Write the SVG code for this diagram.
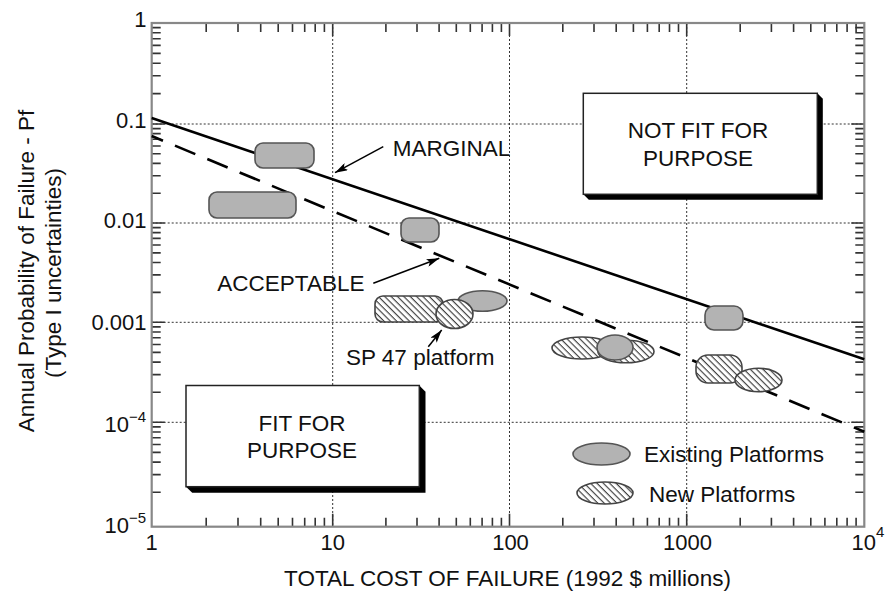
<svg xmlns="http://www.w3.org/2000/svg" width="886" height="597" viewBox="0 0 886 597">
<style>
text{font-family:"Liberation Sans",Arial,Helvetica,sans-serif;fill:#111;}
.lab{font-size:22.5px;}
.tick{font-size:22px;}
.sup{font-size:15px;}
.grid{fill:none;stroke:#333;stroke-width:1;stroke-dasharray:2 2;}
.minor{fill:none;stroke:#333;stroke-width:1.6;}
.axisframe{fill:none;stroke:#888;stroke-width:2.2;}
.exist{fill:#b3b3b3;stroke:#555;stroke-width:1.6;}
.newp{fill:url(#hatch);stroke:#444;stroke-width:1.6;}
.box{fill:#fff;stroke:#222;stroke-width:1.5;}
.shadow{fill:#000;}
.arrow{fill:none;stroke:#000;stroke-width:1.5;marker-end:url(#ah);}
</style>
<defs>
<pattern id="hatch" width="6" height="4.5" patternUnits="userSpaceOnUse" patternTransform="rotate(45)">
<rect width="6" height="4.5" fill="#fff"/>
<line x1="0" y1="0.6" x2="6" y2="0.6" stroke="#333" stroke-width="1.1"/>
</pattern>
<marker id="ah" viewBox="0 0 13 8" refX="13" refY="4" markerWidth="13" markerHeight="8" orient="auto" markerUnits="userSpaceOnUse">
<path d="M0,0 L13,4 L0,8 L3,4 z" fill="#000"/>
</marker>
</defs>
<rect width="886" height="597" fill="#fff"/>

<g id="grid">
<path class="grid" d="M151.7 124H864.3M151.7 223H864.3M151.7 322.3H864.3M151.7 422.3H864.3M332.7 23V526.7M509.5 23V526.7M686.7 23V526.7"/>
</g>

<g id="axes">
<path class="minor" d="M151.7 93.6h9M151.7 75.8h9M151.7 63.2h9M151.7 53.4h9M151.7 45.4h9M151.7 38.7h9M151.7 32.8h9M151.7 27.6h9M151.7 193.2h9M151.7 175.8h9M151.7 163.4h9M151.7 153.8h9M151.7 146h9M151.7 139.3h9M151.7 133.6h9M151.7 128.6h9M151.7 292.4h9M151.7 274.9h9M151.7 262.5h9M151.7 252.9h9M151.7 245h9M151.7 238.4h9M151.7 232.6h9M151.7 227.6h9M151.7 392.2h9M151.7 374.6h9M151.7 362.1h9M151.7 352.4h9M151.7 344.5h9M151.7 337.8h9M151.7 332h9M151.7 326.9h9M151.7 492.2h9M151.7 474.6h9M151.7 462.1h9M151.7 452.4h9M151.7 444.5h9M151.7 437.8h9M151.7 432h9M151.7 426.9h9M151.7 124h13M151.7 223h13M151.7 322.3h13M151.7 422.3h13"/>
<path class="minor" d="M864.3 93.6h-9M864.3 75.8h-9M864.3 63.2h-9M864.3 53.4h-9M864.3 45.4h-9M864.3 38.7h-9M864.3 32.8h-9M864.3 27.6h-9M864.3 193.2h-9M864.3 175.8h-9M864.3 163.4h-9M864.3 153.8h-9M864.3 146h-9M864.3 139.3h-9M864.3 133.6h-9M864.3 128.6h-9M864.3 292.4h-9M864.3 274.9h-9M864.3 262.5h-9M864.3 252.9h-9M864.3 245h-9M864.3 238.4h-9M864.3 232.6h-9M864.3 227.6h-9M864.3 392.2h-9M864.3 374.6h-9M864.3 362.1h-9M864.3 352.4h-9M864.3 344.5h-9M864.3 337.8h-9M864.3 332h-9M864.3 326.9h-9M864.3 492.2h-9M864.3 474.6h-9M864.3 462.1h-9M864.3 452.4h-9M864.3 444.5h-9M864.3 437.8h-9M864.3 432h-9M864.3 426.9h-9M864.3 124h-13M864.3 223h-13M864.3 322.3h-13M864.3 422.3h-13"/>
<path class="minor" d="M206.2 23v9M238 23v9M260.7 23v9M278.2 23v9M292.5 23v9M304.7 23v9M315.2 23v9M324.4 23v9M385.9 23v9M417 23v9M439.1 23v9M456.3 23v9M470.3 23v9M482.1 23v9M492.4 23v9M501.4 23v9M562.8 23v9M594 23v9M616.2 23v9M633.4 23v9M647.4 23v9M659.2 23v9M669.5 23v9M678.5 23v9M740.2 23v9M771.4 23v9M793.6 23v9M810.8 23v9M824.9 23v9M836.8 23v9M847.1 23v9M856.1 23v9M332.7 23v13M509.5 23v13M686.7 23v13"/>
<path class="minor" d="M206.2 526.7v-9M238 526.7v-9M260.7 526.7v-9M278.2 526.7v-9M292.5 526.7v-9M304.7 526.7v-9M315.2 526.7v-9M324.4 526.7v-9M385.9 526.7v-9M417 526.7v-9M439.1 526.7v-9M456.3 526.7v-9M470.3 526.7v-9M482.1 526.7v-9M492.4 526.7v-9M501.4 526.7v-9M562.8 526.7v-9M594 526.7v-9M616.2 526.7v-9M633.4 526.7v-9M647.4 526.7v-9M659.2 526.7v-9M669.5 526.7v-9M678.5 526.7v-9M740.2 526.7v-9M771.4 526.7v-9M793.6 526.7v-9M810.8 526.7v-9M824.9 526.7v-9M836.8 526.7v-9M847.1 526.7v-9M856.1 526.7v-9M332.7 526.7v-13M509.5 526.7v-13M686.7 526.7v-13"/>
<rect class="axisframe" x="151.7" y="23" width="712.6" height="503.7"/>
</g>

<g id="axis-labels">
<text class="tick" x="146.5" y="26.7" text-anchor="end">1</text>
<text class="tick" x="146.5" y="128" text-anchor="end">0.1</text>
<text class="tick" x="146.5" y="228" text-anchor="end">0.01</text>
<text class="tick" x="146.5" y="330" text-anchor="end">0.001</text>
<text class="tick" x="146" y="431.7" text-anchor="end">10<tspan class="sup" dy="-10">−4</tspan></text>
<text class="tick" x="146" y="533.3" text-anchor="end">10<tspan class="sup" dy="-10">−5</tspan></text>
<text class="tick" x="151.7" y="550" text-anchor="middle">1</text>
<text class="tick" x="332.7" y="550" text-anchor="middle">10</text>
<text class="tick" x="510.5" y="550" text-anchor="middle">100</text>
<text class="tick" x="687.5" y="550" text-anchor="middle">1000</text>
<text class="tick" x="851.5" y="550">10<tspan class="sup" dy="-13">4</tspan></text>
<text class="lab" x="507.5" y="586" text-anchor="middle">TOTAL COST OF FAILURE (1992 $ millions)</text>
<text class="lab" transform="translate(34,271) rotate(-90)" text-anchor="middle">Annual Probability of Failure - Pf</text>
<text class="lab" transform="translate(60.5,273) rotate(-90)" text-anchor="middle">(Type I uncertainties)</text>
</g>

<g id="connectors">
<line id="marginal-line" x1="151.7" y1="118" x2="864.3" y2="359.3" stroke="#000" stroke-width="2.6"/>
<line id="acceptable-line" x1="151.7" y1="136" x2="864.3" y2="431.7" stroke="#000" stroke-width="2.6" stroke-dasharray="22 13" stroke-dashoffset="9.8"/>
<line class="arrow" x1="383.3" y1="146.7" x2="335" y2="172.7"/>
<line class="arrow" x1="373.3" y1="283.3" x2="439.3" y2="258.3"/>
<line class="arrow" x1="428.3" y1="346.7" x2="441.7" y2="330"/>
</g>

<g id="not-fit-box">
<polygon class="shadow" points="817.3,93.3 822.8,98.8 822.8,199.8 588.8,199.8 583.3,194.3"/>
<rect class="box" x="583.3" y="93.3" width="234" height="101"/>
<text class="lab" x="698" y="137.7" text-anchor="middle">NOT FIT FOR</text>
<text class="lab" x="698" y="165.7" text-anchor="middle">PURPOSE</text>
</g>

<g id="fit-box">
<polygon class="shadow" points="419.3,385.5 425.5,391.7 425.5,492.7 192.2,492.7 186,486.7"/>
<rect class="box" x="186" y="385.5" width="233.3" height="101.2"/>
<text class="lab" x="302" y="431" text-anchor="middle">FIT FOR</text>
<text class="lab" x="302" y="458.3" text-anchor="middle">PURPOSE</text>
</g>

<g id="platforms">
<rect id="ex1" class="exist" x="255" y="143" width="59" height="25" rx="8"/>
<rect id="ex2" class="exist" x="209" y="192" width="87" height="26" rx="8"/>
<rect id="ex3" class="exist" x="401" y="218" width="38" height="24" rx="8"/>
<rect id="ex4" class="exist" x="705" y="306" width="38" height="24" rx="9"/>
<rect id="new1" class="newp" x="375" y="296" width="68" height="26" rx="8"/>
<ellipse id="ex5" class="exist" cx="482.5" cy="301" rx="24.5" ry="10.3"/>
<ellipse id="sp47" class="newp" cx="454.5" cy="314" rx="18.5" ry="14.5" stroke="#000" stroke-width="3"/>
<ellipse id="new2" class="newp" cx="582" cy="348" rx="30" ry="11"/>
<ellipse id="new3" class="newp" cx="626" cy="351.5" rx="28" ry="11.3"/>
<ellipse id="ex6" class="exist" cx="615" cy="347.5" rx="18" ry="12.5"/>
<rect id="new4" class="newp" x="696" y="355" width="46" height="28" rx="12"/>
<ellipse id="new5" class="newp" cx="758.5" cy="380" rx="23.5" ry="11.7"/>
</g>

<g id="annotations">
<text class="lab" x="392.7" y="155.7">MARGINAL</text>
<text class="lab" x="217.3" y="290.7">ACCEPTABLE</text>
<text class="lab" x="346" y="365">SP 47 platform</text>
</g>

<g id="legend">
<ellipse class="exist" cx="601.5" cy="454" rx="28.5" ry="11"/>
<text class="lab" x="644" y="461.7">Existing Platforms</text>
<ellipse class="newp" cx="605" cy="493" rx="28" ry="11"/>
<text class="lab" x="649" y="501.7">New Platforms</text>
</g>
</svg>
